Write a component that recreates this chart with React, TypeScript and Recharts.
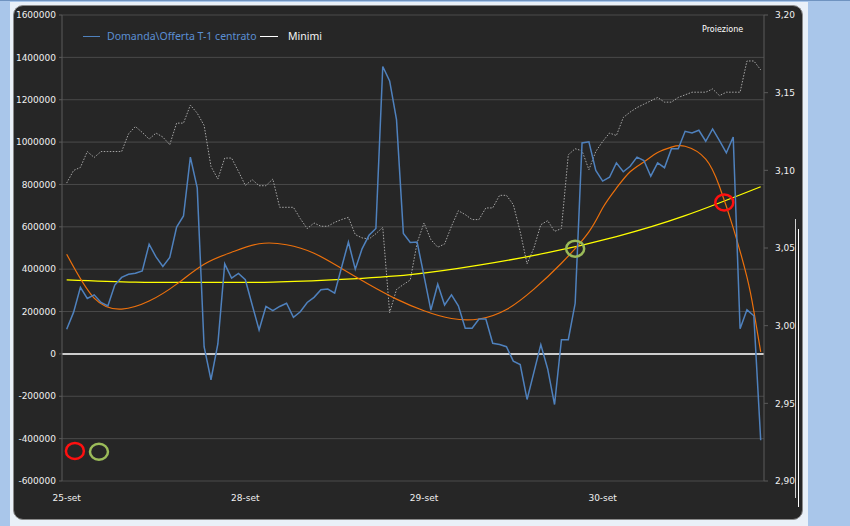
import {
  LineChart,
  Line,
  XAxis,
  YAxis,
  CartesianGrid,
  ReferenceLine,
  ReferenceDot,
} from "recharts";

// day labels and the index of the first reading of each day
const dayLabels = ["25-set", "28-set", "29-set", "30-set"];
const dayStart = [0, 26, 52, 78];

// Domanda\Offerta T-1 centrato (left axis)
const domanda = [
  116000, 196000, 314000, 262000, 279000, 243000, 227000, 325000, 361000, 376000,
  381000, 392000, 518000, 458000, 413000, 455000, 599000, 651000, 929000, 784000,
  34000, -122000, 47000, 425000, 358000, 380000, 350000, 231000, 113000, 224000,
  204000, 224000, 239000, 173000, 199000, 243000, 267000, 303000, 306000, 287000,
  408000, 528000, 400000, 497000, 560000, 592000, 1357000, 1289000, 1106000, 569000,
  526000, 528000, 368000, 207000, 329000, 231000, 279000, 227000, 121000, 121000,
  165000, 165000, 50000, 44000, 34000, -34000, -50000, -215000, -86000, 44000,
  -71000, -239000, 67000, 67000, 239000, 996000, 1001000, 866000, 816000, 834000,
  902000, 860000, 886000, 929000, 913000, 839000, 902000, 879000, 968000, 968000,
  1051000, 1043000, 1056000, 1004000, 1062000, 1007000, 949000, 1024000, 119000, 208000,
  180000, -408000,
];

// price (right axis, dotted grey)
const prezzo = [
  3.0918, 3.0999, 3.1019, 3.1121, 3.1083, 3.1121, 3.1121, 3.1121, 3.1121, 3.1235,
  3.1282, 3.1244, 3.1201, 3.124, 3.1214, 3.1165, 3.1304, 3.1304, 3.142, 3.1368,
  3.1289, 3.1025, 3.0944, 3.1079, 3.1079, 3.0993, 3.0903, 3.094, 3.0901, 3.0901,
  3.0944, 3.0762, 3.0762, 3.0762, 3.0689, 3.0625, 3.0661, 3.064, 3.064, 3.0665,
  3.0683, 3.0697, 3.0586, 3.0565, 3.0558, 3.0592, 3.0633, 3.0083, 3.0233, 3.0265,
  3.0294, 3.0533, 3.0661, 3.0554, 3.0505, 3.0526, 3.064, 3.074, 3.0715, 3.0683,
  3.0683, 3.0758, 3.0758, 3.0839, 3.0839, 3.0779, 3.0605, 3.0398, 3.0501, 3.065,
  3.0676, 3.0607, 3.0625, 3.11, 3.1139, 3.1126, 3.1004, 3.1121, 3.1186, 3.124,
  3.1224, 3.134, 3.1375, 3.1404, 3.1426, 3.1447, 3.1469, 3.1439, 3.1439, 3.1469,
  3.1486, 3.1503, 3.1503, 3.1503, 3.1524, 3.1481, 3.1503, 3.1503, 3.1503, 3.1704,
  3.1704, 3.1647,
];

// polynomial trend (orange), read at a few indices
const trendIdx = [0, 4, 8, 12, 16, 20, 24, 28, 32, 36, 40, 44, 48, 52, 56, 60, 64, 68, 72, 76, 78, 80, 82, 84, 86, 88, 90, 93, 95, 97, 99, 100, 101];
const trendVal = [
  470600, 263500, 211800, 249400, 329400, 423500, 480000, 520000, 515300, 475300,
  403300, 328000, 258800, 203800, 167100, 164700, 209400, 305900, 428200, 576500,
  688900, 782600, 859800, 905900, 950600, 976500, 980300, 920000, 790600, 595300,
  362400, 202400, 9400,
];

// Minimi curve (yellow)
const minimiIdx = [0, 10, 20, 30, 40, 50, 60, 70, 80, 90, 101];
const minimiVal = [349700, 338800, 337400, 338800, 351500, 374100, 418800, 477700, 553900, 652700, 789200];

// circled crossings
const markers = [
  { x: 95.7, y: 715000, color: "#ff1010" },
  { x: 74, y: 497000, color: "#9bbb59" },
  { x: 1.2, y: -458000, color: "#ff1010" },
  { x: 4.7, y: -462000, color: "#9bbb59" },
];

const rows = domanda.map((v, i) => {
  const t = trendIdx.indexOf(i);
  const m = minimiIdx.indexOf(i);
  return {
    i,
    domanda: v,
    prezzo: prezzo[i],
    trend: t >= 0 ? trendVal[t] : null,
    minimi: m >= 0 ? minimiVal[m] : null,
  };
});

const font = "'DejaVu Sans', sans-serif";
const tickStyle = { fill: "#f0f0f0", fontSize: 9, fontFamily: font };

export default function App() {
  return (
    <div style={{ position: "absolute", left: 0, top: 0, width: 850, height: 526, background: "#a9c6ea", overflow: "hidden" }}>
      <div style={{ position: "absolute", left: 0, top: 0, width: 850, height: 1, background: "#6f93c0" }} />
      <div style={{ position: "absolute", left: 10, top: 2, width: 798, height: 524, background: "#e9f0f8" }} />
      <div
        style={{
          position: "absolute",
          left: 13,
          top: 5,
          width: 788,
          height: 513,
          background: "#262626",
          border: "1px solid #8a8a8a",
          borderRadius: 10,
        }}
      />
      <div style={{ position: "absolute", left: 795, top: 219, width: 1, height: 279, background: "#cfcfcf" }} />
      <div style={{ position: "absolute", left: 798, top: 229, width: 1, height: 278, background: "#ffffff" }} />

      <div style={{ position: "absolute", left: 0, top: 0 }}>
        <LineChart width={850} height={526} data={rows} margin={{ top: 15, right: 46, bottom: 15, left: 7 }}>
          <CartesianGrid yAxisId="left" vertical={false} stroke="#4a4a4a" />
          <XAxis
            dataKey="i"
            type="number"
            domain={[-0.68, 101.48]}
            ticks={dayStart}
            tickFormatter={(v) => dayLabels[dayStart.indexOf(v)]}
            axisLine={false}
            tickLine={false}
            tickMargin={8}
            height={30}
            tick={tickStyle}
            allowDataOverflow
          />
          <YAxis
            yAxisId="left"
            domain={[-600000, 1600000]}
            ticks={[-600000, -400000, -200000, 0, 200000, 400000, 600000, 800000, 1000000, 1200000, 1400000, 1600000]}
            width={55}
            tick={tickStyle}
            axisLine={{ stroke: "#5a5a5a" }}
            tickLine={{ stroke: "#5a5a5a" }}
            tickSize={3}
            tickMargin={3}
            interval={0}
          />
          <YAxis
            yAxisId="right"
            orientation="right"
            domain={[2.9, 3.2]}
            ticks={[2.9, 2.95, 3.0, 3.05, 3.1, 3.15, 3.2]}
            tickFormatter={(v) => v.toFixed(2).replace(".", ",")}
            width={40}
            tick={tickStyle}
            axisLine={{ stroke: "#5a5a5a" }}
            tickLine={{ stroke: "#5a5a5a" }}
            tickSize={4}
            tickMargin={7}
            interval={0}
          />
          <ReferenceLine yAxisId="left" y={0} stroke="#ffffff" strokeWidth={1.5} />
          <Line
            yAxisId="right"
            dataKey="prezzo"
            stroke="#a8a8a8"
            strokeWidth={1}
            strokeDasharray="1.5 1.5"
            dot={false}
            isAnimationActive={false}
          />
          <Line
            yAxisId="left"
            dataKey="minimi"
            type="natural"
            connectNulls
            stroke="#ffff00"
            strokeWidth={1.3}
            dot={false}
            isAnimationActive={false}
          />
          <Line
            yAxisId="left"
            dataKey="trend"
            type="natural"
            connectNulls
            stroke="#ec700c"
            strokeWidth={1.2}
            dot={false}
            isAnimationActive={false}
          />
          <Line
            yAxisId="left"
            dataKey="domanda"
            stroke="#4f81bd"
            strokeWidth={1.5}
            dot={false}
            isAnimationActive={false}
          />
          {markers.map((m, k) => (
            <ReferenceDot
              key={k}
              yAxisId="left"
              x={m.x}
              y={m.y}
              r={9}
              shape={(p: any) => (
                <ellipse cx={p.cx} cy={p.cy} rx={9} ry={8} fill="none" stroke={m.color} strokeWidth={2.5} />
              )}
            />
          ))}
        </LineChart>
      </div>

      <div style={{ position: "absolute", left: 83, top: 36, width: 17, height: 1, background: "#4f81bd" }} />
      <div style={{ position: "absolute", left: 107, top: 28, fontFamily: "'Noto Sans', sans-serif", fontSize: 10.5, lineHeight: "16px", color: "#5b8fd3", whiteSpace: "nowrap" }}>
        Domanda\Offerta T-1 centrato
      </div>
      <div style={{ position: "absolute", left: 260, top: 36, width: 18, height: 1, background: "#ffffff" }} />
      <div style={{ position: "absolute", left: 288, top: 28, fontFamily: "'Noto Sans', sans-serif", fontSize: 10.5, lineHeight: "16px", color: "#f4f4f4", whiteSpace: "nowrap" }}>
        Minimi
      </div>
      <div style={{ position: "absolute", left: 702, top: 25, fontFamily: font, fontSize: 8, lineHeight: "10px", color: "#ffffff", whiteSpace: "nowrap" }}>
        Proiezione
      </div>
    </div>
  );
}
